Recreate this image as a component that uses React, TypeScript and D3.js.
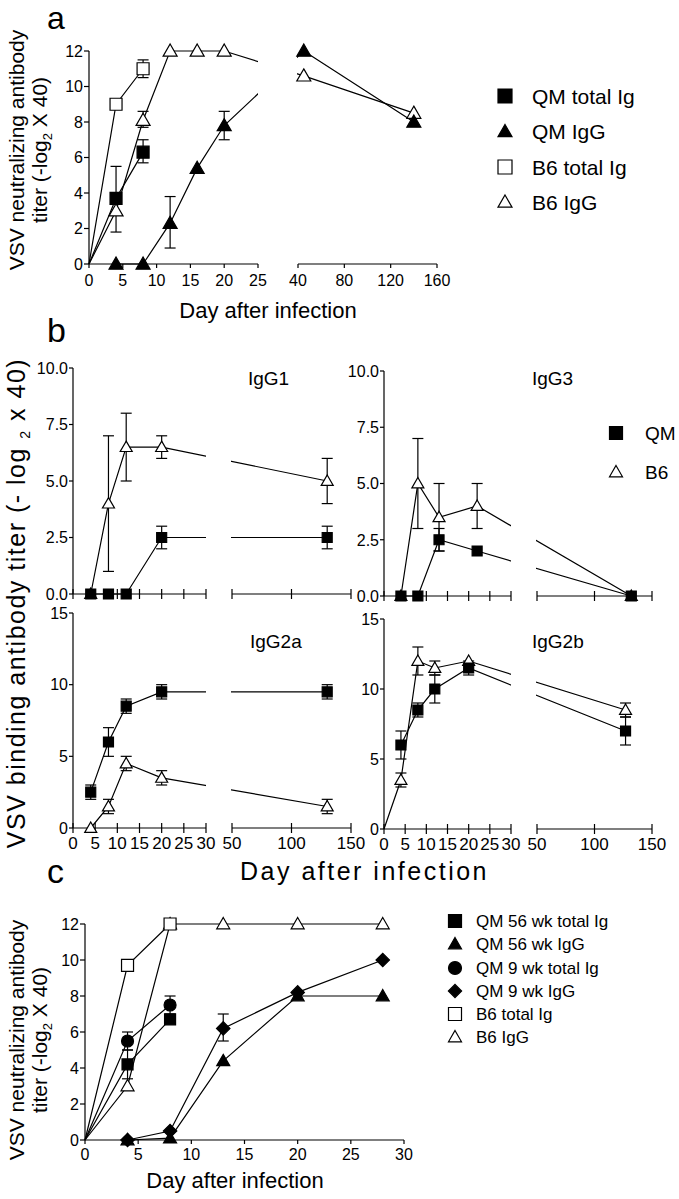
import React from "react";
import * as d3 from "d3";

// ---------------- Panel a data ----------------
const aYTicks = [0, 2, 4, 6, 8, 10, 12];
const aXTicks1 = [0, 5, 10, 15, 20, 25];
const aXTicks2 = [40, 80, 120, 160];

const aQMTotalDays = [0, 4, 8];
const aQMTotalVals = [0, 3.7, 6.3];
const aQMTotalLo = [null, 1.8, 5.7];
const aQMTotalHi = [null, 5.5, 7.0];

const aQMIgGDays = [4, 8, 12, 16, 20, 45, 140];
const aQMIgGVals = [0, 0, 2.3, 5.4, 7.8, 12, 8.0];
const aQMIgGLo = [null, null, 0.9, null, 7.0, null, null];
const aQMIgGHi = [null, null, 3.8, null, 8.6, null, null];

const aB6TotalDays = [0, 4, 8];
const aB6TotalVals = [0, 9, 11];
const aB6TotalLo = [null, null, 10.5];
const aB6TotalHi = [null, null, 11.5];

const aB6IgGDays = [0, 4, 8, 12, 16, 20, 45, 140];
const aB6IgGVals = [0, 3.0, 8.1, 12, 12, 12, 10.6, 8.5];
const aB6IgGLo = [null, null, 7.7, null, null, null, null, null];
const aB6IgGHi = [null, null, 8.6, null, null, null, null, null];

const aLegend = ["QM total Ig", "QM IgG", "B6 total Ig", "B6 IgG"];

// ---------------- Panel b data ----------------
const bTopYTicks = [0, 2.5, 5, 7.5, 10];
const bBotYTicks = [0, 5, 10, 15];
const bXTicks1 = [0, 5, 10, 15, 20, 25, 30];
const bXTicks2 = [50, 100, 150];

const bIgG1QMDays = [4, 8, 12, 20, 130];
const bIgG1QMVals = [0, 0, 0, 2.5, 2.5];
const bIgG1QMLo = [null, null, null, 2, 2];
const bIgG1QMHi = [null, null, null, 3, 3];
const bIgG1B6Days = [4, 8, 12, 20, 130];
const bIgG1B6Vals = [0, 4, 6.5, 6.5, 5];
const bIgG1B6Lo = [null, 1, 5, 6, 4];
const bIgG1B6Hi = [null, 7, 8, 7, 6];

const bIgG3QMDays = [4, 8, 13, 22, 132];
const bIgG3QMVals = [0, 0, 2.5, 2.0, 0];
const bIgG3QMLo = [null, null, 2.0, null, null];
const bIgG3QMHi = [null, null, 3.0, null, null];
const bIgG3B6Days = [4, 8, 13, 22, 132];
const bIgG3B6Vals = [0, 5, 3.5, 4, 0];
const bIgG3B6Lo = [null, 3, 2, 3, null];
const bIgG3B6Hi = [null, 7, 5, 5, null];

const bIgG2aQMDays = [4, 8, 12, 20, 130];
const bIgG2aQMVals = [2.5, 6, 8.5, 9.5, 9.5];
const bIgG2aQMLo = [2, 5, 8, 9, 9];
const bIgG2aQMHi = [3, 7, 9, 10, 10];
const bIgG2aB6Days = [4, 8, 12, 20, 130];
const bIgG2aB6Vals = [0, 1.5, 4.5, 3.5, 1.5];
const bIgG2aB6Lo = [null, 1, 4, 3, 1];
const bIgG2aB6Hi = [null, 2, 5, 4, 2];

const bIgG2bQMDays = [4, 8, 12, 20, 127];
const bIgG2bQMVals = [6, 8.5, 10, 11.5, 7];
const bIgG2bQMLo = [5, 8, 9, 11, 6];
const bIgG2bQMHi = [7, 9, 11, 12, 8];
const bIgG2bB6Days = [0, 4, 8, 12, 20, 127];
const bIgG2bB6Vals = [0, 3.5, 12, 11.5, 12, 8.5];
const bIgG2bB6Lo = [null, 3, 11, 11, null, 8];
const bIgG2bB6Hi = [null, 4, 13, 12, null, 9];

const bLegend = ["QM", "B6"];

// ---------------- Panel c data ----------------
const cYTicks = [0, 2, 4, 6, 8, 10, 12];
const cXTicks = [0, 5, 10, 15, 20, 25, 30];

const cB6TotalDays = [0, 4, 8];
const cB6TotalVals = [0, 9.7, 12];
const cB6IgGDays = [0, 4, 8, 13, 20, 28];
const cB6IgGVals = [0, 3, 12, 12, 12, 12];
const cQM56TotalDays = [0, 4, 8];
const cQM56TotalVals = [0, 4.2, 6.7];
const cQM56TotalLo = [null, 3.4, null];
const cQM56TotalHi = [null, 5.0, null];
const cQM9TotalDays = [0, 4, 8];
const cQM9TotalVals = [0, 5.5, 7.5];
const cQM9TotalLo = [null, 5.0, 7.0];
const cQM9TotalHi = [null, 6.0, 8.0];
const cQM56IgGDays = [4, 8, 13, 20, 28];
const cQM56IgGVals = [0, 0.1, 4.4, 8, 8];
const cQM9IgGDays = [4, 8, 13, 20, 28];
const cQM9IgGVals = [0, 0.5, 6.2, 8.2, 10];
const cQM9IgGLo = [null, null, 5.5, null, null];
const cQM9IgGHi = [null, null, 7.0, null, null];

const cLegend = ["QM 56 wk total Ig", "QM 56 wk IgG", "QM 9 wk total Ig", "QM 9 wk IgG", "B6 total Ig", "B6 IgG"];

// ---------------- helpers ----------------
type Shape = "square" | "triangle" | "circle" | "diamond";
interface Series {
  days: number[];
  vals: number[];
  lo?: (number | null)[];
  hi?: (number | null)[];
  shape: Shape;
  filled: boolean;
  size: number;
}

const ARIAL = "Liberation Sans, Arial, sans-serif";
const NARROW = "Liberation Sans Narrow, Arial Narrow, Liberation Sans, sans-serif";

function broken(d1: [number, number], r1: [number, number], d2?: [number, number], r2?: [number, number]) {
  const s1 = d3.scaleLinear().domain(d1).range(r1);
  const s2 = d2 && r2 ? d3.scaleLinear().domain(d2).range(r2) : null;
  const f = (v: number) => (s2 && v > d1[1] ? s2(v) : s1(v));
  return { f, s1, s2 };
}

function symbolPath(shape: Shape, size: number) {
  if (shape === "square" || shape === "diamond") return d3.symbol().type(d3.symbolSquare).size(size * size)()!;
  if (shape === "circle") return d3.symbol().type(d3.symbolCircle).size((Math.PI * size * size) / 4)()!;
  return d3.symbol().type(d3.symbolTriangle).size((Math.sqrt(3) / 4) * size * size)()!;
}

function Marker({ x, y, shape, filled, size, sw = 1.2 }: any) {
  const rot = shape === "diamond" ? " rotate(45)" : "";
  const dy = shape === "triangle" ? size * 0.08 : 0;
  return (
    <path
      d={symbolPath(shape, size)}
      transform={`translate(${x},${y + dy})${rot}`}
      fill={filled ? "#000" : "#fff"}
      stroke="#000"
      strokeWidth={sw}
    />
  );
}

function Plot({ id, series, x, y, clips, cap, sw = 1.2 }: any) {
  const line = d3
    .line<[number, number]>()
    .x((d) => x(d[0]))
    .y((d) => y(d[1]));
  return (
    <g>
      <defs>
        <clipPath id={id}>
          {clips.map((c: number[], i: number) => (
            <rect key={i} x={c[0] - 1} y={0} width={c[1] - c[0] + 1} height={1199} />
          ))}
        </clipPath>
      </defs>
      <g clipPath={`url(#${id})`}>
        {series.map((s: Series, i: number) => (
          <path
            key={i}
            d={line(s.days.map((d, j) => [d, s.vals[j]] as [number, number]))!}
            fill="none"
            stroke="#000"
            strokeWidth={sw}
          />
        ))}
      </g>
      {series.map((s: Series, i: number) => (
        <g key={"e" + i}>
          {s.days.map((d, j) => {
            const lo = s.lo ? s.lo[j] : null;
            const hi = s.hi ? s.hi[j] : null;
            if (lo == null && hi == null) return null;
            const xx = x(d);
            const y1 = y(lo == null ? s.vals[j] : lo);
            const y2 = y(hi == null ? s.vals[j] : hi);
            return (
              <g key={j} stroke="#000" strokeWidth={sw}>
                <line x1={xx} x2={xx} y1={y1} y2={y2} />
                {lo != null && <line x1={xx - cap / 2} x2={xx + cap / 2} y1={y1} y2={y1} />}
                {hi != null && <line x1={xx - cap / 2} x2={xx + cap / 2} y1={y2} y2={y2} />}
              </g>
            );
          })}
        </g>
      ))}
      {series.map((s: Series, i: number) => (
        <g key={"m" + i}>
          {s.days.map((d, j) =>
            d === 0 ? null : (
              <Marker key={j} x={x(d)} y={y(s.vals[j])} shape={s.shape} filled={s.filled} size={s.size} />
            )
          )}
        </g>
      ))}
    </g>
  );
}

function YAxis({ x, y, ticks, fmt, font, fs, tick = 5, labelGap = 3, domainMax }: any) {
  return (
    <g>
      <line x1={x} x2={x} y1={y(0)} y2={y(domainMax)} stroke="#000" strokeWidth={1.2} />
      {ticks.map((t: number) => (
        <g key={t}>
          <line x1={x - tick} x2={x} y1={y(t)} y2={y(t)} stroke="#000" strokeWidth={1.2} />
          <text x={x - tick - labelGap + 2} y={y(t)} dy="0.36em" textAnchor="end" fontFamily={font} fontSize={fs}>
            {fmt(t)}
          </text>
        </g>
      ))}
    </g>
  );
}

function XSeg({ s, y, ticks, font, fs, up = 0, down = 4, labels = true, labelY = 20 }: any) {
  const [a, b] = s.range();
  return (
    <g>
      <line x1={a} x2={b} y1={y} y2={y} stroke="#000" strokeWidth={1.2} />
      {ticks.map((t: number) => (
        <g key={t}>
          <line x1={s(t)} x2={s(t)} y1={y - up} y2={y + down} stroke="#000" strokeWidth={1.2} />
          {labels && (
            <text x={s(t)} y={y + labelY} textAnchor="middle" fontFamily={font} fontSize={fs}>
              {t}
            </text>
          )}
        </g>
      ))}
    </g>
  );
}

function Legend({ x, tx, ys, items, shapes, fs, size }: any) {
  return (
    <g>
      {items.map((t: string, i: number) => (
        <g key={t}>
          <Marker x={x} y={ys[i]} shape={shapes[i][0]} filled={shapes[i][1]}
            size={shapes[i][0] === "diamond" ? size * 0.72 : size} />
          <text x={tx} y={ys[i]} dy="0.36em" fontFamily={ARIAL} fontSize={fs}>
            {t}
          </text>
        </g>
      ))}
    </g>
  );
}

export default function App() {
  // ---- panel a scales
  const aX = broken([0, 25], [89, 258], [40, 160], [298, 437]);
  const aY = d3.scaleLinear().domain([0, 12]).range([264, 51]);
  const aSeries: Series[] = [
    { days: aB6IgGDays, vals: aB6IgGVals, lo: aB6IgGLo, hi: aB6IgGHi, shape: "triangle", filled: false, size: 14 },
    { days: aB6TotalDays, vals: aB6TotalVals, lo: aB6TotalLo, hi: aB6TotalHi, shape: "square", filled: false, size: 12 },
    { days: aQMIgGDays, vals: aQMIgGVals, lo: aQMIgGLo, hi: aQMIgGHi, shape: "triangle", filled: true, size: 14 },
    { days: aQMTotalDays, vals: aQMTotalVals, lo: aQMTotalLo, hi: aQMTotalHi, shape: "square", filled: true, size: 12 },
  ];

  // ---- panel b scales
  const bLX = broken([0, 30], [73, 206], [50, 150], [232, 351]);
  const bRX = broken([0, 30], [384, 511], [50, 150], [537, 652]);
  const yIgG1 = d3.scaleLinear().domain([0, 10]).range([594, 368]);
  const yIgG3 = d3.scaleLinear().domain([0, 10]).range([596, 371]);
  const yIgG2a = d3.scaleLinear().domain([0, 15]).range([828, 613]);
  const yIgG2b = d3.scaleLinear().domain([0, 15]).range([829, 619]);
  const mk = (days: number[], vals: number[], lo: any, hi: any, b6: boolean): Series => ({
    days, vals, lo, hi, shape: b6 ? "triangle" : "square", filled: !b6, size: b6 ? 12 : 10,
  });
  const sIgG1 = [mk(bIgG1B6Days, bIgG1B6Vals, bIgG1B6Lo, bIgG1B6Hi, true), mk(bIgG1QMDays, bIgG1QMVals, bIgG1QMLo, bIgG1QMHi, false)];
  const sIgG3 = [mk(bIgG3B6Days, bIgG3B6Vals, bIgG3B6Lo, bIgG3B6Hi, true), mk(bIgG3QMDays, bIgG3QMVals, bIgG3QMLo, bIgG3QMHi, false)];
  const sIgG2a = [mk(bIgG2aB6Days, bIgG2aB6Vals, bIgG2aB6Lo, bIgG2aB6Hi, true), mk(bIgG2aQMDays, bIgG2aQMVals, bIgG2aQMLo, bIgG2aQMHi, false)];
  const sIgG2b = [mk(bIgG2bB6Days, bIgG2bB6Vals, bIgG2bB6Lo, bIgG2bB6Hi, true), mk(bIgG2bQMDays, bIgG2bQMVals, bIgG2bQMLo, bIgG2bQMHi, false)];

  // ---- panel c scales
  const cX = d3.scaleLinear().domain([0, 30]).range([85, 404]);
  const cY = d3.scaleLinear().domain([0, 12]).range([1140, 924]);
  const cSeries: Series[] = [
    { days: cB6IgGDays, vals: cB6IgGVals, shape: "triangle", filled: false, size: 13 },
    { days: cB6TotalDays, vals: cB6TotalVals, shape: "square", filled: false, size: 12 },
    { days: cQM56IgGDays, vals: cQM56IgGVals, shape: "triangle", filled: true, size: 13 },
    { days: cQM9IgGDays, vals: cQM9IgGVals, lo: cQM9IgGLo, hi: cQM9IgGHi, shape: "diamond", filled: true, size: 9.5 },
    { days: cQM56TotalDays, vals: cQM56TotalVals, lo: cQM56TotalLo, hi: cQM56TotalHi, shape: "square", filled: true, size: 11 },
    { days: cQM9TotalDays, vals: cQM9TotalVals, lo: cQM9TotalLo, hi: cQM9TotalHi, shape: "circle", filled: true, size: 12 },
  ];

  const fmt1 = (t: number) => t.toFixed(1);
  const fmt0 = (t: number) => String(t);

  const bSub = (xs: any, ys: any, series: Series[], yTicks: number[], fmt: any, yMax: number, axisX: number, id: string, labels: boolean, title: string, titleX: number, titleY: number) => (
    <g>
      <YAxis x={axisX} y={ys} ticks={yTicks} fmt={fmt} font={NARROW} fs={16} tick={4} domainMax={yMax} />
      <XSeg s={xs.s1} y={ys(0)} ticks={bXTicks1} font={NARROW} fs={17} up={5} down={5} labels={labels} labelY={21} />
      <XSeg s={xs.s2} y={ys(0)} ticks={bXTicks2} font={NARROW} fs={17} up={5} down={5} labels={labels} labelY={21} />
      <Plot id={id} series={series} x={xs.f} y={ys} clips={[xs.s1.range(), xs.s2.range()]} cap={11} />
      <text x={titleX} y={titleY} fontFamily={NARROW} fontSize={19}>{title}</text>
    </g>
  );

  return (
    <svg width={679} height={1199} style={{ position: "absolute", left: 0, top: 0, background: "#fff" }}>
      <rect width={679} height={1199} fill="#fff" />
      {/* ---------- Panel a ---------- */}
      <text x={47} y={29} fontFamily={ARIAL} fontSize={32}>a</text>
      <YAxis x={89} y={aY} ticks={aYTicks} fmt={fmt0} font={ARIAL} fs={16} domainMax={12} />
      <XSeg s={aX.s1} y={aY(0)} ticks={aXTicks1} font={ARIAL} fs={16} labelY={22} />
      <XSeg s={aX.s2} y={aY(0)} ticks={aXTicks2} font={ARIAL} fs={16} labelY={22} />
      <Plot id="clipA" series={aSeries} x={aX.f} y={aY} clips={[aX.s1.range(), aX.s2.range()]} cap={11} />
      <text x={268} y={318} textAnchor="middle" fontFamily={ARIAL} fontSize={22}>Day after infection</text>
      <text transform="translate(24,150) rotate(-90)" textAnchor="middle" fontFamily={ARIAL} fontSize={21}>VSV neutralizing antibody</text>
      <text transform="translate(47,150) rotate(-90)" textAnchor="middle" fontFamily={ARIAL} fontSize={21}>
        titer (-log<tspan fontSize={13} dy={5}>2</tspan><tspan dy={-5}> X 40)</tspan>
      </text>
      <Legend x={505} tx={532} ys={[96, 131.5, 167, 202]} items={aLegend}
        shapes={[["square", true], ["triangle", true], ["square", false], ["triangle", false]]} fs={21} size={14} />

      {/* ---------- Panel b ---------- */}
      <text x={47} y={342} fontFamily={ARIAL} fontSize={34}>b</text>
      {bSub(bLX, yIgG1, sIgG1, bTopYTicks, fmt1, 10, 73, "clipB1", false, "IgG1", 248, 385)}
      {bSub(bRX, yIgG3, sIgG3, bTopYTicks, fmt1, 10, 384, "clipB3", false, "IgG3", 532, 385)}
      {bSub(bLX, yIgG2a, sIgG2a, bBotYTicks, fmt0, 15, 73, "clipB2a", true, "IgG2a", 250, 648)}
      {bSub(bRX, yIgG2b, sIgG2b, bBotYTicks, fmt0, 15, 384, "clipB2b", true, "IgG2b", 532, 648)}
      <text x={240} y={880} fontFamily={ARIAL} fontSize={25} letterSpacing={2.5}>Day after infection</text>
      <text transform="translate(25,603) rotate(-90)" textAnchor="middle" fontFamily={ARIAL} fontSize={25} letterSpacing={1.5}>
        VSV binding antibody titer (- log <tspan fontSize={14} dy={5}>2</tspan><tspan dy={-5}> x 40)</tspan>
      </text>
      <Legend x={616} tx={645} ys={[433, 472]} items={bLegend} shapes={[["square", true], ["triangle", false]]} fs={19} size={13} />

      {/* ---------- Panel c ---------- */}
      <text x={47} y={883} fontFamily={ARIAL} fontSize={34}>c</text>
      <YAxis x={85} y={cY} ticks={cYTicks} fmt={fmt0} font={ARIAL} fs={16} domainMax={12} />
      <XSeg s={cX} y={cY(0)} ticks={cXTicks} font={ARIAL} fs={16} labelY={20} />
      <Plot id="clipC" series={cSeries} x={cX} y={cY} clips={[cX.range()]} cap={11} />
      <text x={235} y={1188} textAnchor="middle" fontFamily={ARIAL} fontSize={22}>Day after infection</text>
      <text transform="translate(24,1040) rotate(-90)" textAnchor="middle" fontFamily={ARIAL} fontSize={21}>VSV neutralizing antibody</text>
      <text transform="translate(47,1040) rotate(-90)" textAnchor="middle" fontFamily={ARIAL} fontSize={21}>
        titer (-log<tspan fontSize={13} dy={5}>2</tspan><tspan dy={-5}> X 40)</tspan>
      </text>
      <Legend x={455} tx={476} ys={[921, 944, 968, 991, 1014, 1037]} items={cLegend}
        shapes={[["square", true], ["triangle", true], ["circle", true], ["diamond", true], ["square", false], ["triangle", false]]} fs={17} size={13} />
    </svg>
  );
}
